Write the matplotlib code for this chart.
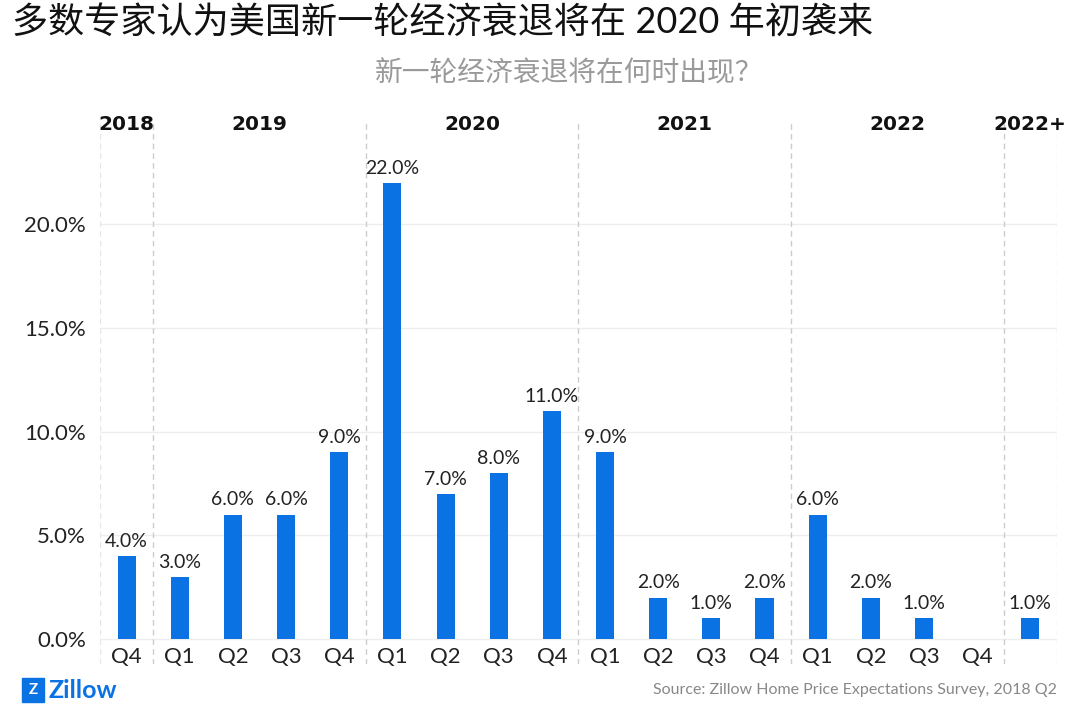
import numpy as np
import matplotlib.pyplot as plt
from matplotlib.patches import Rectangle

plt.rcParams['font.family'] = ['Lato', 'Noto Sans CJK SC', 'DejaVu Sans']

#####################################################

quarters = ['Q4', 'Q1', 'Q2', 'Q3', 'Q4', 'Q1', 'Q2', 'Q3', 'Q4',
            'Q1', 'Q2', 'Q3', 'Q4', 'Q1', 'Q2', 'Q3', 'Q4', '']
values = [4.0, 3.0, 6.0, 6.0, 9.0, 22.0, 7.0, 8.0, 11.0,
          9.0, 2.0, 1.0, 2.0, 6.0, 2.0, 1.0, 0.0, 1.0]
years = ['2018', '2019', '2020', '2021', '2022', '2022+']
year_first = [0, 1, 5, 9, 13, 17]
year_last = [0, 4, 8, 12, 16, 17]
y_ticks = [0, 5, 10, 15, 20]

title = '多数专家认为美国新一轮经济衰退将在 2020 年初袭来'
subtitle = '新一轮经济衰退将在何时出现？'
source = 'Source: Zillow Home Price Expectations Survey, 2018 Q2'

#####################################################

blue = '#0a72e3'
fig = plt.figure(figsize=(10.8, 7.23), dpi=100)
ax = fig.add_axes([0.0926, 0.0816, 0.886, 0.766])

x = np.arange(len(values))
ax.bar(x, values, width=0.34, color=blue, zorder=3)

for xi, v in zip(x, values):
    if v > 0:
        ax.text(xi, v + 0.3, f'{v:.1f}%', ha='center', va='bottom',
                fontsize=14, color='#222222', zorder=4)

ax.set_xlim(-0.5, 17.5)
ax.set_ylim(-1.2, 25.5)
ax.set_yticks(y_ticks)
ax.set_yticklabels([f'{t:.1f}%' for t in y_ticks], fontsize=16, color='#222222')
ax.tick_params(axis='y', length=0, pad=10)
ax.set_xticks([])
for s in ax.spines.values():
    s.set_visible(False)

for t in y_ticks:
    ax.axhline(t, color='#eeeeee', lw=1, zorder=1)

# quarter labels below the bars
for xi, q in zip(x, quarters):
    ax.text(xi, -0.4, q, ha='center', va='top', fontsize=16, color='#222222')

# year separators and labels
for a, b, yr in zip(year_first, year_last, years):
    ax.text((a + b) / 2, 24.8, yr, ha='center', va='center', family='DejaVu Sans',
            fontsize=14.5, fontweight='bold', color='#111111')
    if a > 0:
        ax.axvline(a - 0.5, ymin=0, ymax=0.98, color='#cccccc', lw=1,
                   ls=(0, (4, 3)), zorder=1)
ax.axvline(-0.5, ymin=0, ymax=0.98, color='#e6e6e6', lw=1, ls=(0, (4, 3)), zorder=1)
ax.axvline(17.5, ymin=0, ymax=0.98, color='#e6e6e6', lw=1, ls=(0, (4, 3)), zorder=1)

fig.text(0.011, 0.970, title, fontsize=26, color='#111111', va='center', ha='left')
fig.text(0.527, 0.899, subtitle, fontsize=20, color='#9a9a9a', va='center', ha='center')
fig.text(0.979, 0.045, source, fontsize=11.5, color='#888888', va='center', ha='right')

# zillow logo
fig.patches.append(Rectangle((0.020, 0.029), 0.021, 0.033, transform=fig.transFigure,
                             color=blue, figure=fig))
fig.text(0.0305, 0.0455, 'Z', fontsize=11, fontweight='bold', color='white',
         ha='center', va='center')
fig.text(0.045, 0.0455, 'Zillow', fontsize=18, fontweight='bold', color=blue,
         ha='left', va='center')

fig.savefig('out.png', dpi=100)
